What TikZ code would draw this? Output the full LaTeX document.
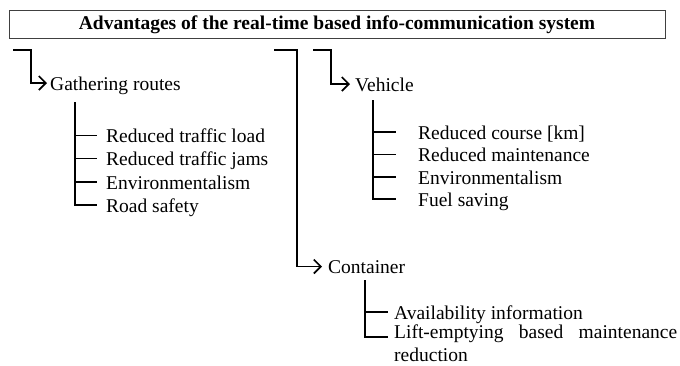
\documentclass[tikz,border=0pt]{standalone}
\usepackage{fontspec}
\setmainfont{Liberation Serif}
\usetikzlibrary{arrows.meta}
\begin{document}
\begin{tikzpicture}[x=1pt,y=-1pt,
  every node/.style={inner sep=0pt, font=\fontsize{19.5}{22.5}\selectfont},
  item/.style={anchor=west, text height=14pt, text depth=0pt},
  headbox/.style={draw=black!75, line width=1pt, minimum width=656pt,
    minimum height=27.5pt, font=\bfseries\fontsize{19.5}{22.5}\selectfont},
  flow/.style={line width=1.7pt, -{Straight Barb[length=7pt,width=14pt]}},
  branch/.style={line width=1.2pt}]
\useasboundingbox (0,0) rectangle (680,365);

% heading
\node[headbox] (title) at (337,24.3)
  {Advantages of the real-time based info-communication system};

% main groups
\node[item] (gath) at (50,83) {Gathering routes};
\node[item] (veh)  at (355,84) {Vehicle};
\node[item] (cont) at (328,266.5) {Container};

% free starting points of the arrows
\coordinate (g0) at (13,50);  \coordinate (g1) at (31,50);
\coordinate (c0) at (274,50); \coordinate (c1) at (297,50);
\coordinate (v0) at (313,50); \coordinate (v1) at (331,50);

\draw[flow, shorten >=3pt] (g0) -- (g1) |- (gath.west);
\draw[flow, shorten >=6pt] (c0) -- (c1) |- (cont.west);
\draw[flow, shorten >=5pt] (v0) -- (v1) |- (veh.west);

% gathering routes
\node[item] (ga) at (106,135.5) {Reduced traffic load};
\node[item] (gb) at (106,158.5) {Reduced traffic jams};
\node[item] (gc) at (106,182)   {Environmentalism};
\node[item] (gd) at (106,205)   {Road safety};
\coordinate (gs) at (75,102);
\foreach \n in {ga,gb,gc,gd}
  \draw[branch, shorten >=9pt] (gs) |- (\n.west);

% vehicle
\node[item] (va) at (418,132)   {Reduced course [km]};
\node[item] (vb) at (418,154.5) {Reduced maintenance};
\node[item] (vc) at (418,177)   {Environmentalism};
\node[item] (vd) at (418,199)   {Fuel saving};
\coordinate (vs) at (373,100);
\foreach \n in {va,vb,vc,vd}
  \draw[branch, shorten >=22pt] (vs) |- (\n.west);

% container
\node[item] (ca) at (394,312) {Availability information};
\node[anchor=north west, align=left] (cb) at (394,325)
  {\makebox[283pt][s]{Lift-emptying based maintenance}\\reduction};
\coordinate (cs) at (365,280);
\draw[branch, shorten >=6pt] (cs) |- (ca.west);
\draw[branch, shorten >=6pt] (cs) |- ([yshift=-12pt]cb.north west);
\end{tikzpicture}
\end{document}
